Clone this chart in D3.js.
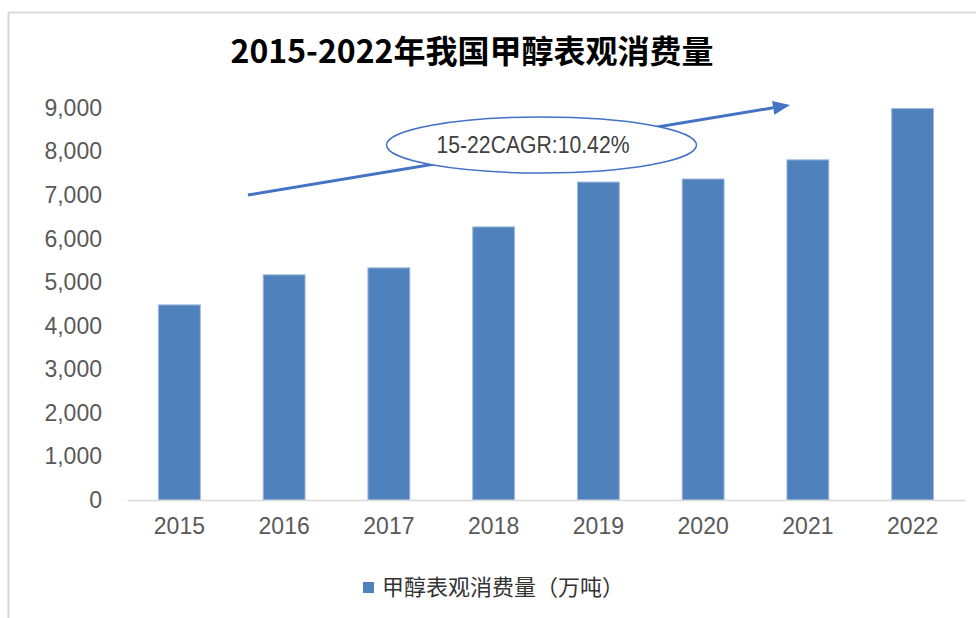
<!DOCTYPE html>
<html>
<head>
<meta charset="utf-8">
<script src="https://cdn.jsdelivr.net/npm/d3@7"></script>
<style>
  html, body { margin: 0; padding: 0; background: #fff; }
</style>
</head>
<body>
<div id="chart"></div>
<script>
var years = ["2015", "2016", "2017", "2018", "2019", "2020", "2021", "2022"];
var consumption = [4480, 5170, 5330, 6270, 7300, 7370, 7810, 8990];
var yTicks = [0, 1000, 2000, 3000, 4000, 5000, 6000, 7000, 8000, 9000];
var seriesName = "甲醇表观消费量（万吨）";
var titleText = "2015-2022年我国甲醇表观消费量";
var cagrText = "15-22CAGR:10.42%";

var canvasWidth = 976;
var canvasHeight = 618;

var svg = d3.select("div#chart").append("svg")
    .attr("width", canvasWidth)
    .attr("height", canvasHeight);

/*Chart frame*/
svg.append("path")
    .attr("d", "M8.5," + canvasHeight + "V12.5H" + canvasWidth)
    .attr("fill", "none")
    .attr("stroke", "#d9d9d9")
    .attr("stroke-width", 2);

/*Scales*/
var xScale = d3.scaleBand().domain(years).range([127, 965]).paddingInner(0.6).paddingOuter(0.3);
var yScale = d3.scaleLinear().domain([0, 9000]).range([500, 108]);

/*Title*/
svg.append("text")
    .attr("x", 472)
    .attr("y", 63)
    .attr("text-anchor", "middle")
    .attr("font-family", "'Noto Sans CJK SC', 'Noto Sans', sans-serif")
    .attr("font-weight", "bold")
    .attr("font-size", 32)
    .attr("fill", "#000")
    .text(titleText);

/*Y axis labels*/
var yAxis = svg.append("g")
    .attr("transform", "translate(127,0)")
    .call(d3.axisLeft(yScale).tickValues(yTicks).tickFormat(d3.format(",")).tickSize(0).tickPadding(25));
yAxis.select(".domain").remove();
yAxis.selectAll("text")
    .attr("font-family", "'Liberation Sans', Arial, sans-serif")
    .attr("font-size", 23)
    .attr("fill", "#595959");

/*Bars*/
svg.selectAll(".bar")
    .data(consumption)
    .join("rect")
    .attr("class", "bar")
    .attr("x", function (d, i) { return xScale(years[i]); })
    .attr("y", function (d) { return yScale(d); })
    .attr("width", xScale.bandwidth())
    .attr("height", function (d) { return yScale(0) - yScale(d); })
    .attr("fill", "#4f81bd")
    .attr("stroke", "#a3bbdd")
    .attr("stroke-width", 1);

/*X axis*/
var xAxis = svg.append("g")
    .attr("transform", "translate(0,500)")
    .call(d3.axisBottom(xScale).tickSize(0).tickPadding(18));
xAxis.select(".domain")
    .attr("stroke", "#d9d9d9")
    .attr("stroke-width", 1.5);
xAxis.selectAll("text")
    .attr("font-family", "'Liberation Sans', Arial, sans-serif")
    .attr("font-size", 23)
    .attr("fill", "#595959");

/*CAGR arrow*/
var arrowStart = [248, 195];
var arrowTip = [790, 105];
var ang = Math.atan2(arrowTip[1] - arrowStart[1], arrowTip[0] - arrowStart[0]);
var headLen = 17, headHalf = 7;
var base = [arrowTip[0] - headLen * Math.cos(ang), arrowTip[1] - headLen * Math.sin(ang)];
svg.append("line")
    .attr("x1", arrowStart[0]).attr("y1", arrowStart[1])
    .attr("x2", base[0]).attr("y2", base[1])
    .attr("stroke", "#4472c4")
    .attr("stroke-width", 3);
svg.append("path")
    .attr("d", "M" + arrowTip[0] + "," + arrowTip[1] +
        "L" + (base[0] - headHalf * Math.sin(ang)) + "," + (base[1] + headHalf * Math.cos(ang)) +
        "L" + (base[0] + headHalf * Math.sin(ang)) + "," + (base[1] - headHalf * Math.cos(ang)) + "Z")
    .attr("fill", "#4472c4");

/*CAGR ellipse*/
svg.append("ellipse")
    .attr("cx", 541.5)
    .attr("cy", 145)
    .attr("rx", 155)
    .attr("ry", 28)
    .attr("fill", "#fff")
    .attr("stroke", "#4472c4")
    .attr("stroke-width", 1.5);
svg.append("text")
    .attr("x", 533)
    .attr("y", 153)
    .attr("text-anchor", "middle")
    .attr("font-family", "'Liberation Sans', Arial, sans-serif")
    .attr("font-size", 23)
    .attr("textLength", 193)
    .attr("lengthAdjust", "spacingAndGlyphs")
    .attr("fill", "#404040")
    .text(cagrText);

/*Legend*/
var legend = svg.append("g").attr("transform", "translate(363,582)");
legend.append("rect")
    .attr("width", 11)
    .attr("height", 11)
    .attr("fill", "#4f81bd");
legend.append("text")
    .attr("x", 19)
    .attr("y", 13)
    .attr("font-family", "'Noto Sans CJK SC', 'Noto Sans', sans-serif")
    .attr("font-size", 22)
    .attr("fill", "#333")
    .text(seriesName);
</script>
</body>
</html>
